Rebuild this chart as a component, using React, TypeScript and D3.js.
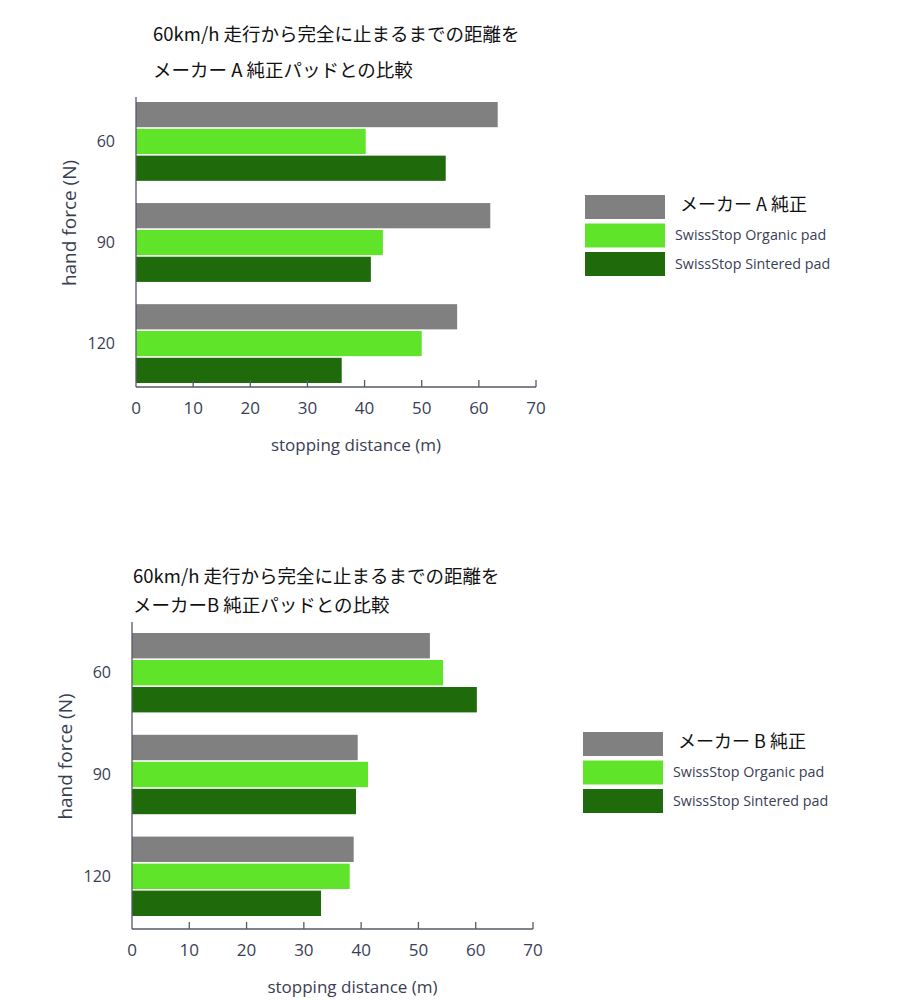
import * as d3 from 'd3';

const forces = ['60', '90', '120'];
const seriesA = ['メーカー A 純正', 'SwissStop Organic pad', 'SwissStop Sintered pad'];
const seriesB = ['メーカー B 純正', 'SwissStop Organic pad', 'SwissStop Sintered pad'];
const colors = ['#808080', '#60e429', '#1f6b0c'];

// stopping distance (m) per force: [maker, organic, sintered]
const valuesA = [
  [63.3, 40.2, 54.2],
  [62.0, 43.2, 41.1],
  [56.2, 50.0, 36.0],
];
const valuesB = [
  [52.0, 54.3, 60.2],
  [39.4, 41.2, 39.1],
  [38.7, 38.0, 33.0],
];

const xTicks = [0, 10, 20, 30, 40, 50, 60, 70];

const sans = '"Open Sans", "Noto Sans", sans-serif';
const jp = '"Noto Sans CJK JP", sans-serif';
const ink = '#3a3e55';

interface ChartProps {
  titles: string[];
  titleX: number;
  titleY: number[];
  series: string[];
  values: number[][];
  x0: number;
  x1: number;
  axisTop: number;
  barsTop: number;
  barsBottom: number;
  baseline: number;
  legendX: number;
  legendY: number;
}

const Chart = (p: ChartProps) => {
  const x = d3.scaleLinear().domain([0, 70]).range([p.x0, p.x1]);
  const y = d3.scaleBand<string>().domain(forces).range([p.barsTop, p.barsBottom]).paddingInner(0.22);
  const inner = d3.scaleBand<number>().domain([0, 1, 2]).range([0, y.bandwidth()]).paddingInner(0.06);
  const midY = (p.axisTop + p.baseline) / 2;

  return (
    <g>
      {p.titles.map((t, i) => (
        <text key={t} x={p.titleX} y={p.titleY[i]} fontFamily={jp} fontSize={18.5} fill="#111" dominantBaseline="middle">
          {t}
        </text>
      ))}

      {forces.map((f, gi) => (
        <g key={f} transform={`translate(0,${y(f)})`}>
          {p.values[gi].map((v, si) => (
            <rect key={si} x={x(0)} y={inner(si)} width={x(v) - x(0)} height={inner.bandwidth()} fill={colors[si]} />
          ))}
          <text
            x={p.x0 - 21}
            y={y.bandwidth() / 2 + 1}
            textAnchor="end"
            dominantBaseline="middle"
            fontFamily={sans}
            fontSize={16}
            fill={ink}
          >
            {f}
          </text>
        </g>
      ))}

      <line x1={p.x0} x2={p.x0} y1={p.axisTop} y2={p.baseline} stroke="#555a6a" strokeWidth={1.3} />
      <line x1={p.x0} x2={p.x1} y1={p.baseline} y2={p.baseline} stroke="#555a6a" strokeWidth={1.3} />
      {xTicks.map((t) => (
        <g key={t}>
          {t > 0 && <line x1={x(t)} x2={x(t)} y1={p.baseline} y2={p.baseline - 7} stroke="#555a6a" strokeWidth={1.3} />}
          <text x={x(t)} y={p.baseline + 22} textAnchor="middle" dominantBaseline="middle" fontFamily={sans} fontSize={17} fill={ink}>
            {t}
          </text>
        </g>
      ))}
      <text
        x={(p.x0 + p.x1) / 2 + 20}
        y={p.baseline + 59}
        textAnchor="middle"
        dominantBaseline="middle"
        fontFamily={sans}
        fontSize={17}
        fill={ink}
      >
        stopping distance (m)
      </text>
      <text
        transform={`translate(${p.x0 - 65},${midY - 19}) rotate(-90)`}
        textAnchor="middle"
        dominantBaseline="middle"
        fontFamily={sans}
        fontSize={19}
        fill={ink}
      >
        hand force (N)
      </text>

      {p.series.map((s, i) => (
        <g key={s} transform={`translate(${p.legendX},${p.legendY + i * 28.5})`}>
          <rect x={0} y={0} width={80} height={24} fill={colors[i]} />
          {i === 0 ? (
            <text x={95} y={11} dominantBaseline="middle" fontFamily={jp} fontSize={18} fill="#111">
              {s}
            </text>
          ) : (
            <text x={90} y={13} dominantBaseline="middle" fontFamily={sans} fontSize={14.3} fill={ink}>
              {s}
            </text>
          )}
        </g>
      ))}
    </g>
  );
};

export default function App() {
  return (
    <div>
      <style>{'body{margin:0;background:#fff}'}</style>
      <svg width={916} height={1000} style={{ display: 'block' }}>
        <rect width={916} height={1000} fill="#fff" />
        <Chart
          titles={['60km/h 走行から完全に止まるまでの距離を', 'メーカー A 純正パッドとの比較']}
          titleX={153}
          titleY={[36, 72]}
          series={seriesA}
          values={valuesA}
          x0={136}
          x1={536}
          axisTop={97}
          barsTop={102}
          barsBottom={383}
          baseline={387}
          legendX={585}
          legendY={195}
        />
        <Chart
          titles={['60km/h 走行から完全に止まるまでの距離を', 'メーカーB 純正パッドとの比較']}
          titleX={133}
          titleY={[578, 607]}
          series={seriesB}
          values={valuesB}
          x0={132}
          x1={533}
          axisTop={622}
          barsTop={633}
          barsBottom={916}
          baseline={929}
          legendX={583}
          legendY={732}
        />
      </svg>
    </div>
  );
}
